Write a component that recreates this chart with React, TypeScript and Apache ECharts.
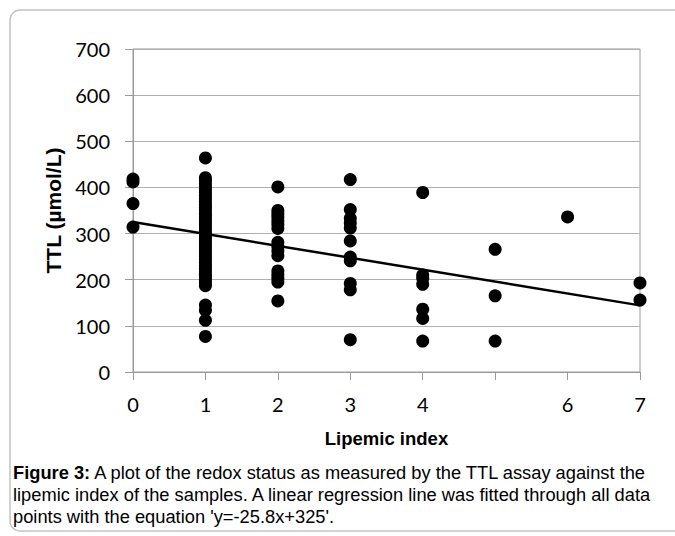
import React, { useEffect, useRef } from "react";
import * as echarts from "echarts";

// Lipemic index categories and TTL readings (µmol/L) per index
const lipemicIdx = [0, 1, 2, 3, 4, 5, 6, 7];
const ttlAt0 = [418, 412, 365, 314];
const ttlAt1 = [464, 421, 415, 408, 401, 395, 389, 382, 376, 369, 363, 357, 351, 344, 338, 332, 325, 319, 313, 306, 300, 294, 288, 281, 275, 269, 262, 256, 250, 244, 237, 231, 225, 219, 212, 206, 200, 193, 187, 145, 134, 112, 77];
const ttlAt2 = [401, 350, 343, 336, 328, 320, 311, 281, 272, 262, 252, 219, 211, 203, 195, 154];
const ttlAt3 = [417, 352, 333, 323, 312, 284, 249, 241, 192, 178, 70];
const ttlAt4 = [389, 210, 203, 190, 136, 116, 67];
const ttlAt5 = [266, 165, 67];
const ttlAt6 = [336];
const ttlAt7 = [193, 156];
const ttlByIdx = [ttlAt0, ttlAt1, ttlAt2, ttlAt3, ttlAt4, ttlAt5, ttlAt6, ttlAt7];

// Regression: y = -25.8x + 325
const regSlope = -25.8;
const regIntercept = 325;
const regX = [0, 7];

const xTickLabels = ["0", "1", "2", "3", "4", "", "6", "7"];
const yTicks = [0, 100, 200, 300, 400, 500, 600, 700];

const captionLines = [
  "A plot of the redox status as measured by the TTL assay against the",
  "lipemic index of the samples. A linear regression line was fitted through all data",
  "points with the equation 'y=-25.8x+325'.",
];

export default function App() {
  const ref = useRef<HTMLDivElement>(null);
  useEffect(() => {
    if (!ref.current) return;
    const chart = echarts.init(ref.current, undefined, { renderer: "svg" });
    const scatterData: number[][] = [];
    lipemicIdx.forEach((x, i) => ttlByIdx[i].forEach((y) => scatterData.push([x, y])));
    const lineData = regX.map((x) => [x, regSlope * x + regIntercept]);
    const axisGray = "#9a9a9a";
    const capFont = "Liberation Sans, Arial, sans-serif";
    const capSize = 18.3;
    chart.setOption({
      animation: false,
      backgroundColor: "#ffffff",
      grid: {
        left: 133,
        right: 35,
        top: 49,
        bottom: 164,
        show: true,
        borderColor: axisGray,
        borderWidth: 1,
        backgroundColor: "transparent",
      },
      xAxis: {
        type: "value",
        min: 0,
        max: 7,
        interval: 1,
        name: "Lipemic index",
        nameLocation: "middle",
        nameGap: 57,
        nameTextStyle: { fontFamily: capFont, fontWeight: "bold", fontSize: 18.5, color: "#000" },
        axisLine: { show: true, lineStyle: { color: axisGray } },
        axisTick: { show: true, length: 8, lineStyle: { color: axisGray } },
        axisLabel: {
          margin: 22,
          fontFamily: "Lato",
          fontSize: 20,
          color: "#000",
          formatter: (v: number) => xTickLabels[Math.round(v)] ?? "",
        },
        splitLine: { show: false },
      },
      yAxis: {
        type: "value",
        min: yTicks[0],
        max: yTicks[yTicks.length - 1],
        interval: 100,
        name: "TTL (µmol/L)",
        nameLocation: "middle",
        nameGap: 68,
        nameTextStyle: { fontFamily: capFont, fontWeight: "bold", fontSize: 21, color: "#000" },
        axisLine: { show: true, lineStyle: { color: axisGray } },
        axisTick: { show: true, length: 8, lineStyle: { color: axisGray } },
        axisLabel: { margin: 23, fontFamily: "Lato", fontSize: 20, color: "#000" },
        splitLine: { show: true, lineStyle: { color: "#b0b0b0", width: 1 } },
      },
      series: [
        {
          type: "scatter",
          data: scatterData,
          symbol: "circle",
          symbolSize: 13,
          itemStyle: { color: "#000", opacity: 1 },
          z: 2,
        },
        {
          type: "line",
          data: lineData,
          symbol: "none",
          lineStyle: { color: "#000", width: 2.5 },
          z: 3,
        },
      ],
      graphic: [
        {
          type: "rect",
          shape: { x: 10, y: 10, width: 720, height: 521, r: 10 },
          style: { fill: "none", stroke: "#c4c4c4", lineWidth: 1.5 },
          silent: true,
        },
        {
          type: "text",
          x: 13,
          y: 472,
          style: {
            text: "{b|Figure 3:} " + captionLines[0],
            font: capSize + "px " + capFont,
            fill: "#000",
            verticalAlign: "middle",
            rich: { b: { fontWeight: "bold", fontSize: capSize, fontFamily: capFont, fill: "#000" } },
          },
        },
        {
          type: "text",
          x: 13,
          y: 494,
          style: { text: captionLines[1], font: capSize + "px " + capFont, fill: "#000", verticalAlign: "middle" },
        },
        {
          type: "text",
          x: 13,
          y: 516,
          style: { text: captionLines[2], font: capSize + "px " + capFont, fill: "#000", verticalAlign: "middle" },
        },
      ],
    });
    return () => chart.dispose();
  }, []);
  return (
    <div
      ref={ref}
      style={{ position: "fixed", left: 0, top: 0, width: 675, height: 536 }}
    />
  );
}
